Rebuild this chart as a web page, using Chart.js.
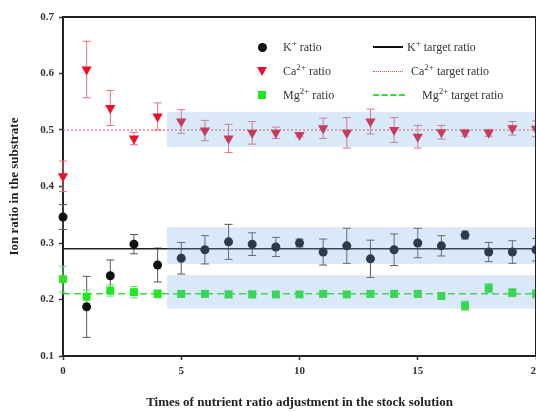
<!DOCTYPE html>
<html>
<head>
<meta charset="utf-8">
<script src="https://cdn.jsdelivr.net/npm/chart.js@4"></script>
<style>
    html, body { margin: 0; padding: 0; background: #fff; overflow: hidden; }
    #wrap { position: relative; width: 560px; height: 412px; }
    .leg { position: absolute; font: 12px "Liberation Serif", "Times New Roman", serif; color: #333; white-space: nowrap; line-height: 14px; }
    .leg sup { font-size: 9px; line-height: 0; vertical-align: 5px; }
    .mk { position: absolute; }
</style>
</head>
<body>
<div id="wrap">
    <canvas id="grafico" width="560" height="412"></canvas>

    <!-- legenda: pontos -->
    <div class="mk" style="left:258px; top:43px; width:9px; height:9px; border-radius:50%; background:#111;"></div>
    <div class="leg" style="left:283px; top:40px;">K<sup>+</sup> ratio</div>
    <div class="mk" style="left:257px; top:67px; width:0; height:0; border-left:5px solid transparent; border-right:5px solid transparent; border-top:9px solid #e8112d;"></div>
    <div class="leg" style="left:283px; top:64px;">Ca<sup>2+</sup> ratio</div>
    <div class="mk" style="left:258px; top:91px; width:8px; height:8px; background:#22e622;"></div>
    <div class="leg" style="left:283px; top:88px;">Mg<sup>2+</sup> ratio</div>

    <!-- legenda: linhas alvo -->
    <div class="mk" style="left:373px; top:46px; width:30px; border-top:2px solid #111;"></div>
    <div class="leg" style="left:407px; top:40px;">K<sup>+</sup> target ratio</div>
    <div class="mk" style="left:373px; top:71px; width:30px; border-top:1px dotted #dd4a55;"></div>
    <div class="leg" style="left:411px; top:64px;">Ca<sup>2+</sup> target ratio</div>
    <div class="mk" style="left:373px; top:94px; width:32px; border-top:2px dashed #3cdc3c;"></div>
    <div class="leg" style="left:422px; top:88px;">Mg<sup>2+</sup> target ratio</div>
</div>

<script>
const vezes = [0, 1, 2, 3, 4, 5, 6, 7, 8, 9, 10, 11, 12, 13, 14, 15, 16, 17, 18, 19, 20];

const razaoK  = [0.346, 0.187, 0.242, 0.298, 0.261, 0.273, 0.288, 0.302, 0.298, 0.293, 0.300, 0.284, 0.295, 0.272, 0.288, 0.300, 0.295, 0.314, 0.284, 0.284, 0.288];
const erroK   = [0.022, 0.054, 0.028, 0.017, 0.030, 0.028, 0.025, 0.031, 0.020, 0.017, 0.007, 0.023, 0.031, 0.033, 0.028, 0.026, 0.018, 0.007, 0.017, 0.020, 0.020];

const razaoCa = [0.418, 0.607, 0.539, 0.485, 0.524, 0.515, 0.499, 0.485, 0.495, 0.495, 0.491, 0.503, 0.495, 0.515, 0.500, 0.488, 0.496, 0.495, 0.495, 0.503, 0.502];
const erroCa  = [0.027, 0.050, 0.031, 0.011, 0.024, 0.021, 0.018, 0.025, 0.020, 0.010, 0.003, 0.018, 0.027, 0.022, 0.022, 0.020, 0.012, 0.006, 0.006, 0.012, 0.014];

const razaoMg = [0.236, 0.205, 0.216, 0.213, 0.210, 0.210, 0.210, 0.209, 0.209, 0.209, 0.209, 0.210, 0.209, 0.210, 0.210, 0.210, 0.206, 0.189, 0.220, 0.212, 0.210];
const erroMg  = [0.023, 0.012, 0.010, 0.010, 0.007, 0.006, 0.006, 0.006, 0.006, 0.005, 0.005, 0.005, 0.005, 0.006, 0.006, 0.006, 0.006, 0.008, 0.008, 0.007, 0.007];

const alvoK = 0.29;
const alvoCa = 0.5;
const alvoMg = 0.21;

// faixas de tolerância (inicio no eixo x, limites em y)
const inicioFaixa = 4.4;
const faixaCa = [0.47, 0.532];
const faixaK = [0.263, 0.328];
const faixaMg = [0.184, 0.243];

const ticksY = [0.1, 0.2, 0.3, 0.4, 0.5, 0.6, 0.7];
const ticksX = [0, 5, 10, 15, 20];

const fonte = "'Liberation Serif', 'Times New Roman', serif";

function pontos(valores) {
    return valores.map((v, i) => ({ x: vezes[i], y: v }));
}

function linhaAlvo(valor) {
    return [{ x: vezes[0], y: valor }, { x: vezes[vezes.length - 1], y: valor }];
}

const series = [
    { valores: razaoK, erros: erroK, cor: '#555' },
    { valores: razaoCa, erros: erroCa, cor: '#e8707a' },
    { valores: razaoMg, erros: erroMg, cor: '#66dd66' }
];

const extras = {
    id: 'extras',
    beforeDatasetsDraw(chart) {
        const ctx = chart.ctx;
        const x = chart.scales.x;
        const y = chart.scales.y;
        ctx.save();
        ctx.lineWidth = 1;
        series.forEach(s => {
            ctx.strokeStyle = s.cor;
            s.valores.forEach((v, i) => {
                const px = x.getPixelForValue(vezes[i]);
                const topo = y.getPixelForValue(v + s.erros[i]);
                const base = y.getPixelForValue(v - s.erros[i]);
                ctx.beginPath();
                ctx.moveTo(px, topo);
                ctx.lineTo(px, base);
                ctx.moveTo(px - 4, topo);
                ctx.lineTo(px + 4, topo);
                ctx.moveTo(px - 4, base);
                ctx.lineTo(px + 4, base);
                ctx.stroke();
            });
        });
        ctx.restore();
    },
    afterDatasetsDraw(chart) {
        const ctx = chart.ctx;
        const x = chart.scales.x;
        const y = chart.scales.y;
        const area = chart.chartArea;
        ctx.save();
        ctx.fillStyle = 'rgba(115, 175, 225, 0.27)';
        const x0 = x.getPixelForValue(inicioFaixa);
        [faixaCa, faixaK, faixaMg].forEach(f => {
            const y1 = y.getPixelForValue(f[1]);
            const y0 = y.getPixelForValue(f[0]);
            ctx.fillRect(x0, y1, area.right - x0, y0 - y1);
        });
        // moldura de cima e da direita
        ctx.strokeStyle = '#222';
        ctx.lineWidth = 2;
        ctx.beginPath();
        ctx.moveTo(area.left, area.top);
        ctx.lineTo(area.right, area.top);
        ctx.lineTo(area.right, area.bottom);
        ctx.stroke();
        ctx.restore();
    }
};

const ctx = document.getElementById('grafico').getContext('2d');

const chart = new Chart(ctx, {
    type: 'scatter',
    data: {
        datasets: [
            {
                label: 'K+ ratio',
                data: pontos(razaoK),
                clip: false,
                pointStyle: 'circle',
                pointRadius: 4.5,
                backgroundColor: '#111',
                borderColor: '#111',
                borderWidth: 0
            },
            {
                label: 'Ca2+ ratio',
                data: pontos(razaoCa),
                clip: false,
                pointStyle: 'triangle',
                rotation: 180,
                pointRadius: 6,
                backgroundColor: '#e8112d',
                borderColor: '#e8112d',
                borderWidth: 0
            },
            {
                label: 'Mg2+ ratio',
                data: pontos(razaoMg),
                clip: false,
                pointStyle: 'rect',
                pointRadius: 5.6,
                backgroundColor: '#22e622',
                borderColor: '#22e622',
                borderWidth: 0
            },
            {
                label: 'K+ target ratio',
                data: linhaAlvo(alvoK),
                showLine: true,
                pointRadius: 0,
                borderColor: '#222',
                borderWidth: 1.5
            },
            {
                label: 'Ca2+ target ratio',
                data: linhaAlvo(alvoCa),
                showLine: true,
                pointRadius: 0,
                borderColor: '#dd4a55',
                borderWidth: 1.2,
                borderDash: [2, 2]
            },
            {
                label: 'Mg2+ target ratio',
                data: linhaAlvo(alvoMg),
                showLine: true,
                pointRadius: 0,
                borderColor: '#3cdc3c',
                borderWidth: 1.5,
                borderDash: [7, 4]
            }
        ]
    },
    options: {
        responsive: false,
        animation: false,
        layout: { padding: { top: 17, right: 24, left: 0, bottom: 0 } },
        plugins: {
            legend: { display: false },
            tooltip: { enabled: false }
        },
        scales: {
            x: {
                type: 'linear',
                min: ticksX[0],
                max: ticksX[ticksX.length - 1],
                afterFit: s => { s.height = 56; },
                afterBuildTicks: s => { s.ticks = ticksX.map(v => ({ value: v })); },
                ticks: {
                    font: { family: fonte, size: 11, weight: 'bold' },
                    color: '#333',
                    padding: 5,
                    maxRotation: 0
                },
                grid: { drawOnChartArea: false, drawTicks: true, tickLength: 4, tickColor: '#333', tickWidth: 1.5 },
                border: { display: true, color: '#222', width: 2 },
                title: {
                    display: true,
                    text: 'Times of nutrient ratio adjustment in the stock solution',
                    font: { family: fonte, size: 13, weight: 'bold' },
                    color: '#222',
                    padding: { top: 0, bottom: 2 }
                }
            },
            y: {
                type: 'linear',
                min: ticksY[0],
                max: ticksY[ticksY.length - 1],
                afterFit: s => { s.width = 63; },
                afterBuildTicks: s => { s.ticks = ticksY.map(v => ({ value: v })); },
                ticks: {
                    font: { family: fonte, size: 11, weight: 'bold' },
                    color: '#333',
                    padding: 5,
                    callback: v => v.toFixed(1)
                },
                grid: { drawOnChartArea: false, drawTicks: true, tickLength: 4, tickColor: '#333', tickWidth: 1.5 },
                border: { display: true, color: '#222', width: 2 },
                title: {
                    display: true,
                    text: 'Ion ratio in the substrate',
                    font: { family: fonte, size: 13, weight: 'bold' },
                    color: '#222',
                    padding: { top: 7, bottom: 0 }
                }
            }
        }
    },
    plugins: [extras]
});
</script>
</body>
</html>
